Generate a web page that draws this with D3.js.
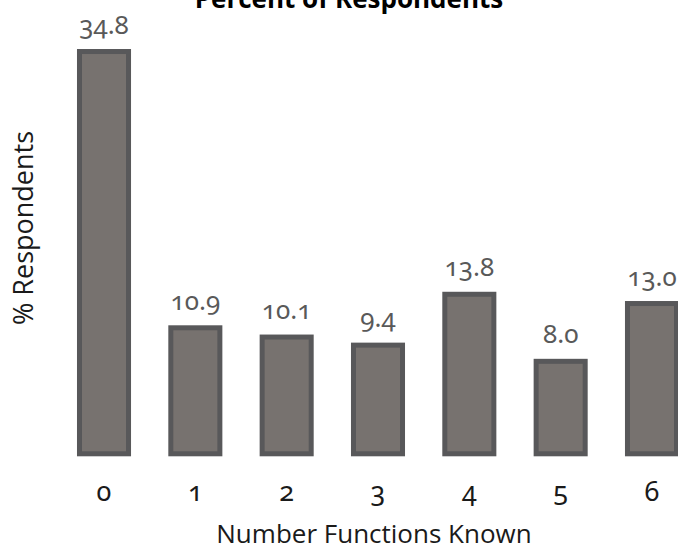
<!DOCTYPE html>
<html>
<head>
<meta charset="utf-8">
<script src="https://cdn.jsdelivr.net/npm/d3@7"></script>
<style>
  html, body { margin: 0; padding: 0; background: #fff; }
  svg { display: block; }
  .num { font-family: "Noto Sans", "Open Sans", sans-serif; font-variant-numeric: oldstyle-nums; font-feature-settings: "onum" 1; }
  .lab { font-family: "Open Sans", "Noto Sans", sans-serif; }
</style>
</head>
<body>
<svg id="chart" width="678" height="550"></svg>
<script>
const categories = ["0", "1", "2", "3", "4", "5", "6"];
const values = [34.8, 10.9, 10.1, 9.4, 13.8, 8.0, 13.0];
const valueLabels = ["34.8", "10.9", "10.1", "9.4", "13.8", "8.0", "13.0"];
const title = "Percent of Respondents";
const xTitle = "Number Functions Known";
const yTitle = "% Respondents";

const svg = d3.select("#chart");

const x = d3.scaleBand().domain(categories).range([37.2, 718.8]).padding(0.463);
const y = d3.scaleLinear().domain([0, 35]).range([453.8, 49.2]);

svg.append("g").selectAll("rect")
  .data(values)
  .join("rect")
  .attr("x", (d, i) => x(categories[i]))
  .attr("width", x.bandwidth())
  .attr("y", d => y(d))
  .attr("height", d => y(0) - y(d))
  .attr("fill", "#77726f")
  .attr("stroke", "#58585a")
  .attr("stroke-width", 5);

svg.append("g").selectAll("text")
  .data(values)
  .join("text")
  .attr("class", "num")
  .attr("x", (d, i) => x(categories[i]) + x.bandwidth() / 2)
  .attr("y", d => y(d) - 18)
  .attr("text-anchor", "middle")
  .attr("font-size", 26)
  .attr("fill", "#595959")
  .text((d, i) => valueLabels[i]);

const xAxis = d3.axisBottom(x).tickSize(0).tickPadding(0);
const gx = svg.append("g").attr("transform", "translate(0,501)").call(xAxis);
gx.select(".domain").remove();
gx.selectAll("text")
  .attr("class", "num")
  .attr("dy", 0)
  .attr("y", 0)
  .attr("font-size", 27)
  .attr("fill", "#1a1a1a");

svg.append("text").attr("class", "lab")
  .attr("x", 374).attr("y", 543)
  .attr("text-anchor", "middle")
  .attr("font-size", 26)
  .attr("fill", "#1a1a1a")
  .text(xTitle);

svg.append("text").attr("class", "lab")
  .attr("transform", "translate(33,228) rotate(-90)")
  .attr("text-anchor", "middle")
  .attr("font-size", 27)
  .attr("fill", "#1a1a1a")
  .text(yTitle);

svg.append("text").attr("class", "lab")
  .attr("x", 349).attr("y", 8)
  .attr("text-anchor", "middle")
  .attr("font-size", 26)
  .attr("font-weight", "bold")
  .attr("fill", "#000")
  .text(title);
</script>
</body>
</html>
